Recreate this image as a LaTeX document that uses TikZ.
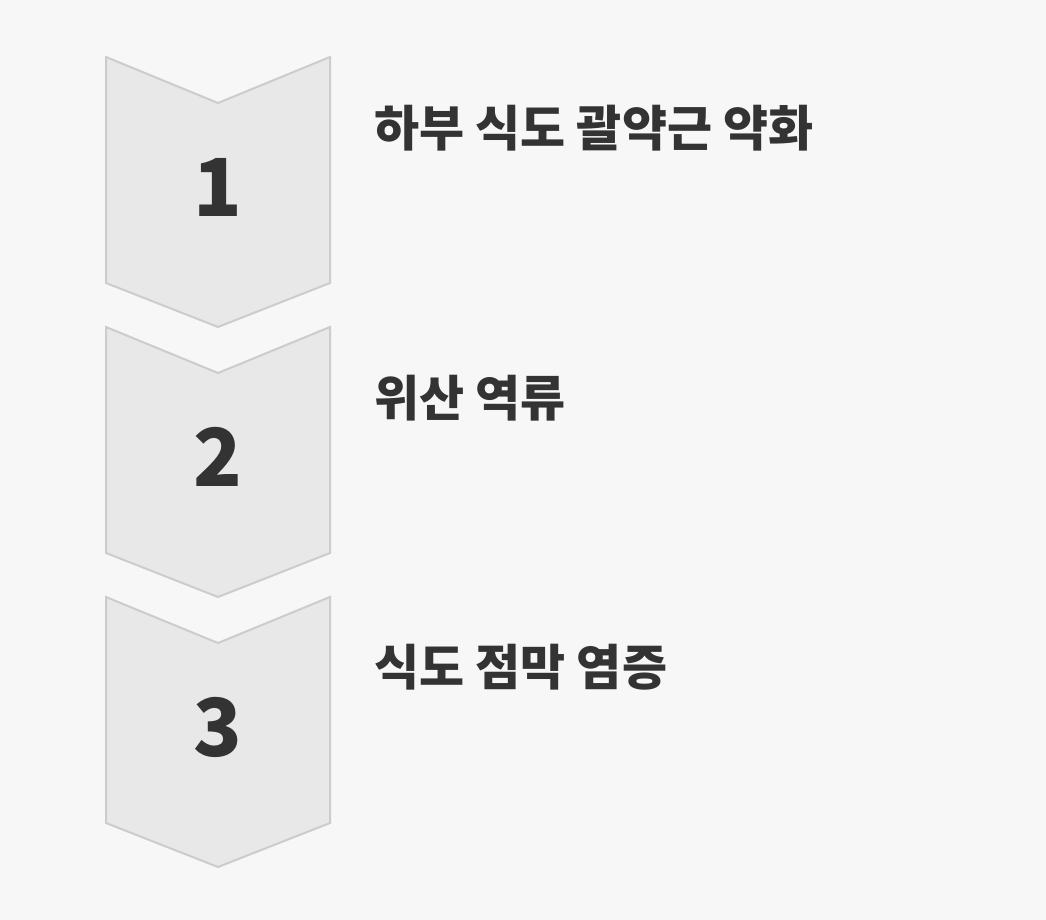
\documentclass[tikz,border=0pt]{standalone}
\usepackage{fontspec}
\setmainfont{Noto Sans CJK KR}
\usetikzlibrary{positioning}
\definecolor{EsoPaper}{HTML}{F7F7F7}
\definecolor{EsoFill}{HTML}{E8E8E8}
\definecolor{EsoEdge}{HTML}{CCCCCC}
\definecolor{EsoInk}{HTML}{333333}
\tikzset{
  esochev/.style={
    fill=EsoFill,
    draw=EsoEdge,
    line width=2pt,
    line join=miter
  },
  esonum/.style={
    font=\fontsize{80}{80}\selectfont\bfseries,
    text=EsoInk,
    inner sep=0pt
  },
  esolabel/.style={
    font=\fontsize{49}{49}\selectfont\bfseries,
    text=EsoInk,
    anchor=west,
    inner sep=0pt
  }
}
\begin{document}
\begin{tikzpicture}[x=1pt,y=-1pt]
    \fill[EsoPaper] (0,0) rectangle (1046,920);
    % chevrons with their numbers
    \foreach \n/\top in {1/57,2/327,3/597}{
      \draw[esochev] (106,\top) -- (218,\top+46) -- (330,\top)
        -- (330,\top+226) -- (218,\top+270) -- (106,\top+226) -- cycle;
      \node[esonum] (num\n) at (218,\top+130) {\n};
    }
    \node[esolabel] (stage1) at (374,128) {하부 식도 괄약근 약화};
    \node[esolabel] (stage2) at (374,398) {위산 역류};
    \node[esolabel] (stage3) at (374,667) {식도 점막 염증};
\end{tikzpicture}
\end{document}
